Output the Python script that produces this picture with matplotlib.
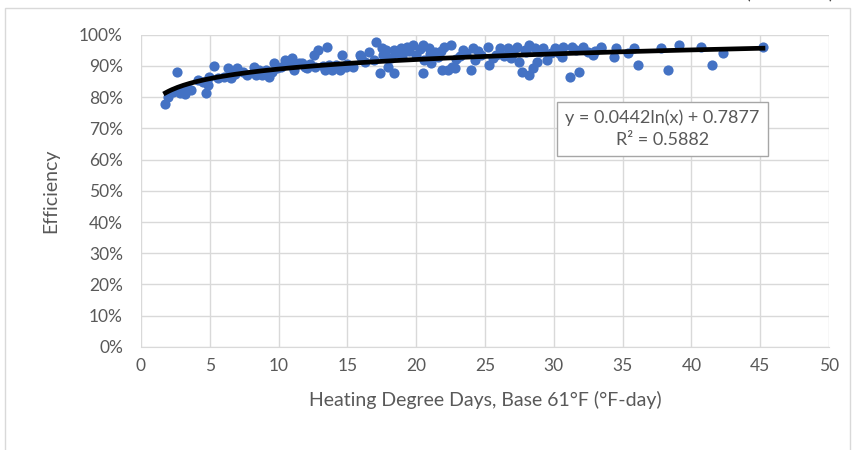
import numpy as np
import matplotlib
matplotlib.use("Agg")
import matplotlib.pyplot as plt
from matplotlib.patches import Rectangle
from matplotlib.ticker import PercentFormatter, MultipleLocator

plt.rcParams['font.family'] = ['Lato', 'DejaVu Sans']

# Точки: градусо-дни (x) и эффективность, %
hdd = [1.78, 1.97, 2.3, 2.64, 2.81, 3.0, 3.17, 3.4, 3.65, 4.13, 4.5, 4.74, 4.85, 4.97,
       5.34, 5.6, 6.0, 6.3, 6.54, 6.8, 7.0, 7.38, 7.7, 8.2, 8.34, 8.6, 8.82, 9.06, 9.3,
       9.5, 9.66, 9.9, 10.2, 10.5, 10.98, 11.1, 11.46, 11.95, 12.3, 12.55, 12.67, 12.9,
       13.2, 13.4, 13.5, 13.9, 14.2, 14.5, 14.6, 15.0, 15.4, 15.9, 16.3, 16.6, 16.9, 17.1,
       17.35, 17.5, 17.8, 17.95, 18.2, 18.4, 18.4, 18.9, 19.0, 19.3, 19.75, 20.0, 20.5,
       20.5, 20.6, 20.96, 21.1, 21.4, 21.6, 21.9, 22.0, 22.3, 22.5, 22.6, 22.8, 23.2, 23.6,
       23.96, 24.1, 24.3, 24.7, 25.2, 25.3, 25.6, 26.1, 26.4, 26.7, 27.0, 27.3, 27.45, 27.7,
       28.0, 28.2, 28.2, 28.5, 28.65, 28.8, 29.25, 29.5, 29.8, 30.1, 30.6, 30.7, 31.2, 31.3,
       31.8, 32.1, 32.5, 32.85, 33.45, 33.45, 34.4, 34.5, 35.4, 35.85, 36.1, 37.8, 38.3,
       39.1, 40.7, 41.5, 42.3, 45.2,
       10.8, 11.7, 12.1, 13.7, 14.9, 16.0, 17.6, 18.7, 19.5, 20.3, 21.0, 21.8, 22.9, 23.4,
       24.5, 25.8, 26.9, 27.9, 29.0, 30.4, 31.6, 33.0]
eff_pct = [77.8, 80.1, 81.5, 88.1, 81.2, 82.0, 80.9, 82.5, 82.3, 85.5, 84.9, 81.2, 83.9, 86.5,
           90.0, 86.0, 86.5, 89.2, 86.0, 87.5, 89.2, 88.1, 87.0, 89.7, 87.1, 88.5, 87.1, 88.7, 86.5,
           88.0, 90.8, 89.2, 89.5, 91.9, 92.4, 88.7, 90.8, 89.7, 90.5, 93.5, 89.7, 95.0,
           90.0, 88.7, 96.1, 88.7, 90.2, 88.7, 93.5, 90.5, 89.7, 93.5, 91.3, 94.5, 92.0, 97.7,
           87.6, 95.6, 95.0, 89.7, 92.5, 87.6, 95.0, 95.6, 93.0, 96.1, 96.6, 93.5, 96.6,
           87.6, 92.0, 95.6, 90.8, 94.5, 92.9, 88.7, 96.1, 88.7, 96.6, 89.7, 89.2, 93.0, 94.0,
           88.7, 95.6, 91.9, 93.5, 96.1, 90.3, 92.4, 95.6, 93.0, 95.6, 94.0, 96.1, 91.3, 88.1,
           94.5, 96.6, 87.1, 89.2, 95.6, 91.3, 95.6, 91.9, 94.0, 95.6, 92.9, 96.1, 86.5, 96.1,
           88.1, 96.1, 94.5, 93.5, 96.1, 95.6, 92.9, 95.6, 94.0, 95.6, 90.3, 95.6, 88.7,
           96.6, 96.1, 90.3, 94.0, 95.9,
           90.2, 91.0, 89.3, 90.4, 89.6, 92.8, 93.4, 94.2, 94.8, 95.4, 93.8, 94.6, 92.2, 95.0,
           94.6, 93.6, 92.6, 95.2, 94.4, 94.2, 95.0, 94.8]

# Логарифмический тренд (коэффициенты с подписи на графике)
coef_a = 0.0442
coef_b = 0.7877
r2_text = "0.5882"

x_ticks = [0, 5, 10, 15, 20, 25, 30, 35, 40, 45, 50]
x_label = "Heating Degree Days, Base 61°F (°F-day)"
y_label = "Efficiency"

grey_text = '#595959'
grid_c = '#d9d9d9'

fig = plt.figure(figsize=(8.58, 4.5), dpi=100)
ax = fig.add_axes([0.1643, 0.2289, 0.8019, 0.6944])

x = np.array(hdd)
y = np.array(eff_pct) / 100
ax.scatter(x, y, s=54, color='#4472C4', linewidths=0, zorder=3)

xt = np.linspace(x.min(), x.max(), 200)
ax.plot(xt, coef_a * np.log(xt) + coef_b, color='black', lw=3.4, zorder=4)

ax.set_xlim(0, 50)
ax.set_ylim(0, 1)
ax.set_xticks(x_ticks)
ax.yaxis.set_major_locator(MultipleLocator(0.1))
ax.yaxis.set_major_formatter(PercentFormatter(1.0, decimals=0))
ax.grid(True, color=grid_c, lw=1.0, zorder=0)
ax.set_axisbelow(True)
for s in ['top', 'right', 'left']:
    ax.spines[s].set_visible(False)
ax.spines['bottom'].set_color(grid_c)
ax.tick_params(length=0, labelsize=12.5, colors=grey_text)
ax.tick_params(axis='y', pad=13)
ax.tick_params(axis='x', pad=8)

ax.set_xlabel(x_label, fontsize=14, color=grey_text, labelpad=12)
ax.set_ylabel(y_label, fontsize=14, color=grey_text, labelpad=14)

# Подпись уравнения тренда
ax.text(37.9, 0.698, f"y = {coef_a}ln(x) + {coef_b}\nR² = {r2_text}",
        ha='center', va='center', fontsize=13, color=grey_text, linespacing=1.45,
        bbox=dict(boxstyle='square,pad=0.45', fc='white', ec='#a6a6a6', lw=1), zorder=5)

# Рамка области диаграммы и обрезанный сверху текст
fig.patches.append(Rectangle((5 / 858, -0.01), 845 / 858, 1 - 8 / 450 + 0.01,
                             transform=fig.transFigure, fill=False, ec=grid_c, lw=1))
fig.text(790 / 858, 1 + 0.5 / 450, "(continued)", ha='center', va='baseline',
         fontsize=13, color='#404040')

fig.savefig('out.png', dpi=100)
